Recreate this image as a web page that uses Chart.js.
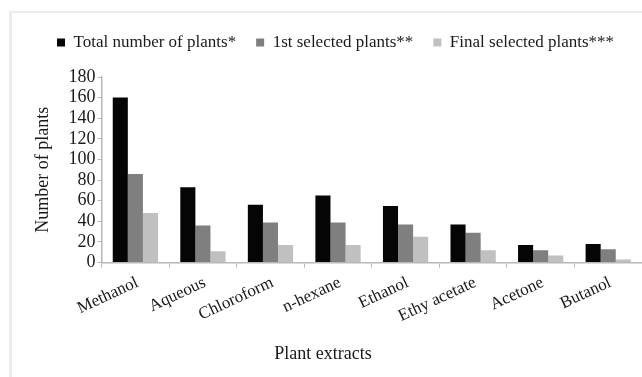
<!DOCTYPE html>
<html>
<head>
<meta charset="utf-8">
<script src="https://cdn.jsdelivr.net/npm/chart.js@4"></script>
<style>
    html, body { margin: 0; padding: 0; background: #fff; }
    #wrap { position: relative; width: 642px; height: 377px; overflow: hidden; }
    #frame {
        position: absolute; left: 9px; top: 11px; right: -10px; bottom: -10px;
        border-top: 2px solid #ececec; border-left: 3px solid #ececec;
    }
    #chart { position: absolute; left: 0; top: 0; }
</style>
</head>
<body>
<div id="wrap">
    <div id="frame"></div>
    <canvas id="chart" width="642" height="377"></canvas>
</div>
<script>
    /* =========================
       DATA
    ========================== */
    const extracts = ["Methanol", "Aqueous", "Chloroform", "n-hexane", "Ethanol", "Ethy acetate", "Acetone", "Butanol"];
    const totalPlants = [160, 73, 56, 65, 55, 37, 17, 18];
    const firstSelected = [86, 36, 39, 39, 37, 29, 12, 13];
    const finalSelected = [48, 11, 17, 17, 25, 12, 7, 3];
    const yTicks = [0, 20, 40, 60, 80, 100, 120, 140, 160, 180];

    const serif = "'Liberation Serif', 'DejaVu Serif', serif";
    const axisColor = "#b8b8b8";
    const textColor = "#1a1a1a";

    /* =========================
       LAYOUT TWEAKS
    ========================== */
    // more room under the legend, legend nudged right, bottom title nudged left
    const layoutTweaks = {
        id: "layoutTweaks",
        afterInit(chart) {
            const legend = chart.legend;
            const fit = legend.fit;
            legend.fit = function () {
                fit.call(this);
                this.height += 16;
            };
        },
        afterLayout(chart) {
            chart.legend.left += 9;
            chart.legend.right += 9;
            chart.titleBlock.left -= 12;
            chart.titleBlock.right -= 12;
        }
    };

    function drawChart() {
        const ctx = document.getElementById("chart").getContext("2d");

        new Chart(ctx, {
            type: "bar",
            data: {
                labels: extracts,
                datasets: [
                    { label: "Total number of plants*", data: totalPlants, backgroundColor: "#050505" },
                    { label: "1st selected plants**", data: firstSelected, backgroundColor: "#7f7f7f" },
                    { label: "Final selected plants***", data: finalSelected, backgroundColor: "#c0c0c0" }
                ]
            },
            plugins: [layoutTweaks],
            options: {
                responsive: false,
                animation: false,
                devicePixelRatio: 1,
                layout: { padding: { left: 28, right: 0, top: 14, bottom: 6 } },
                datasets: {
                    bar: { categoryPercentage: 0.67, barPercentage: 1.0 }
                },
                plugins: {
                    tooltip: { enabled: false },
                    legend: {
                        display: true,
                        position: "top",
                        align: "start",
                        labels: {
                            font: { family: serif, size: 17 },
                            color: textColor,
                            boxWidth: 8,
                            boxHeight: 8,
                            padding: 20
                        }
                    },
                    title: {
                        display: true,
                        position: "bottom",
                        text: "Plant extracts",
                        font: { family: serif, size: 18, weight: "normal" },
                        color: textColor,
                        padding: { top: 12, bottom: 6 }
                    }
                },
                scales: {
                    x: {
                        grid: {
                            display: true,
                            drawOnChartArea: false,
                            offset: true,
                            color: axisColor,
                            tickLength: 5
                        },
                        border: { color: axisColor, width: 1.5 },
                        ticks: {
                            font: { family: serif, size: 17 },
                            color: textColor,
                            maxRotation: 25,
                            minRotation: 25,
                            labelOffset: 2,
                            padding: 5
                        }
                    },
                    y: {
                        min: 0,
                        max: 180,
                        afterBuildTicks: axis => {
                            axis.ticks = yTicks.map(v => ({ value: v }));
                        },
                        grid: {
                            display: true,
                            drawOnChartArea: false,
                            color: axisColor,
                            tickLength: 4
                        },
                        border: { color: axisColor, width: 1.5 },
                        ticks: {
                            font: { family: serif, size: 18 },
                            color: textColor,
                            padding: 2,
                            autoSkip: false
                        },
                        title: {
                            display: true,
                            text: "Number of plants",
                            font: { family: serif, size: 18 },
                            color: textColor,
                            padding: { bottom: 13 }
                        }
                    }
                }
            }
        });
    }

    // make sure the serif face is ready before the canvas text is measured
    document.fonts.load("17px 'Liberation Serif'").then(drawChart, drawChart);
</script>
</body>
</html>
